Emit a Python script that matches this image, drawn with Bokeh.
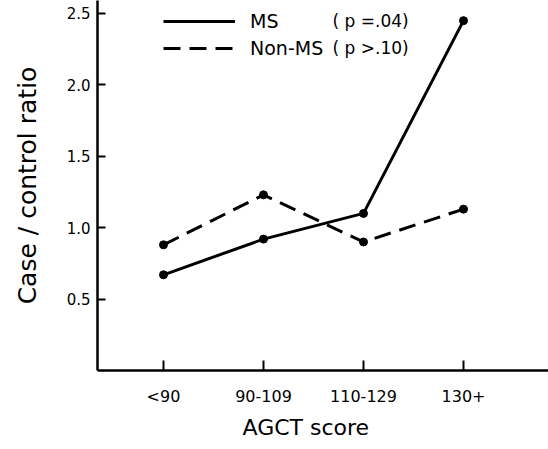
from bokeh.plotting import figure
from bokeh.models import FixedTicker, Legend, LegendItem, Label, Title, CustomJSTickFormatter
from bokeh.embed import file_html
from bokeh.resources import INLINE

categories = ["<90", "90-109", "110-129", "130+"]
ms_ratio = [0.67, 0.92, 1.10, 2.45]
nonms_ratio = [0.88, 1.23, 0.90, 1.13]
series_names = ["MS", "Non-MS"]
p_labels = ["( p =.04)", "( p >.10)"]
y_ticks = [0.5, 1.0, 1.5, 2.0, 2.5]
x_title = "AGCT score"
y_title = "Case / control ratio"

xs = [i + 1 for i in range(len(categories))]
FONT = "DejaVu Sans"

p = figure(width=548, height=449, output_backend="svg", toolbar_location=None,
           x_range=(0.34, 4.85), y_range=(0, 2.591),
           min_border_left=97, min_border_right=0, min_border_top=0, min_border_bottom=79)
p.outline_line_color = None
p.xgrid.visible = False
p.ygrid.visible = False
p.background_fill_color = "white"

for ax in (p.xaxis, p.yaxis):
    ax.axis_line_width = 2.5
    ax.axis_line_color = "black"
    ax.major_tick_line_width = 2
    ax.major_tick_line_color = "black"
    ax.minor_tick_line_color = None
    ax.major_tick_out = 0
    ax.major_label_text_font = FONT
    ax.major_label_text_color = "black"
    ax.axis_label_text_font = FONT
    ax.axis_label_text_font_style = "normal"
    ax.axis_label_text_color = "black"

p.xaxis.ticker = FixedTicker(ticks=xs)
p.xaxis.major_label_overrides = {x: c for x, c in zip(xs, categories)}
p.xaxis.major_tick_in = 10
p.xaxis.major_label_text_font_size = "16px"
p.xaxis.major_label_standoff = 16

p.yaxis.ticker = FixedTicker(ticks=y_ticks)
p.yaxis.formatter = CustomJSTickFormatter(code="return tick.toFixed(1);")
p.yaxis.major_tick_in = 8
p.yaxis.major_label_text_font_size = "15px"
p.yaxis.major_label_standoff = 7
p.yaxis.axis_label = y_title
p.yaxis.axis_label_text_font_size = "25px"
p.yaxis.axis_label_standoff = 22

l1 = p.line(xs, ms_ratio, line_color="black", line_width=3)
p.scatter(xs, ms_ratio, size=8, color="black")
l2 = p.line(xs, nonms_ratio, line_color="black", line_width=3, line_dash="17 9")
p.scatter(xs, nonms_ratio, size=8, color="black")

legend = Legend(items=[LegendItem(label=series_names[0], renderers=[l1]),
                       LegendItem(label=series_names[1], renderers=[l2])],
                location=(66, 311), padding=0, margin=0, spacing=5,
                glyph_width=72, glyph_height=22, label_height=22, label_standoff=15,
                label_text_font=FONT, label_text_font_size="19px", label_text_color="black",
                border_line_color=None, background_fill_alpha=0)
p.add_layout(legend)

for lbl, yv in zip(p_labels, [2.447, 2.258]):
    p.add_layout(Label(x=2.69, y=yv, text=lbl, text_font=FONT, text_font_size="17px",
                       text_baseline="middle", text_color="black"))

p.add_layout(Title(text=x_title, align="left", offset=145, text_font=FONT,
                   text_font_size="22px", text_font_style="normal", text_color="black",
                   standoff=9), "below")

open("out.html", "w").write(file_html(p, INLINE))
